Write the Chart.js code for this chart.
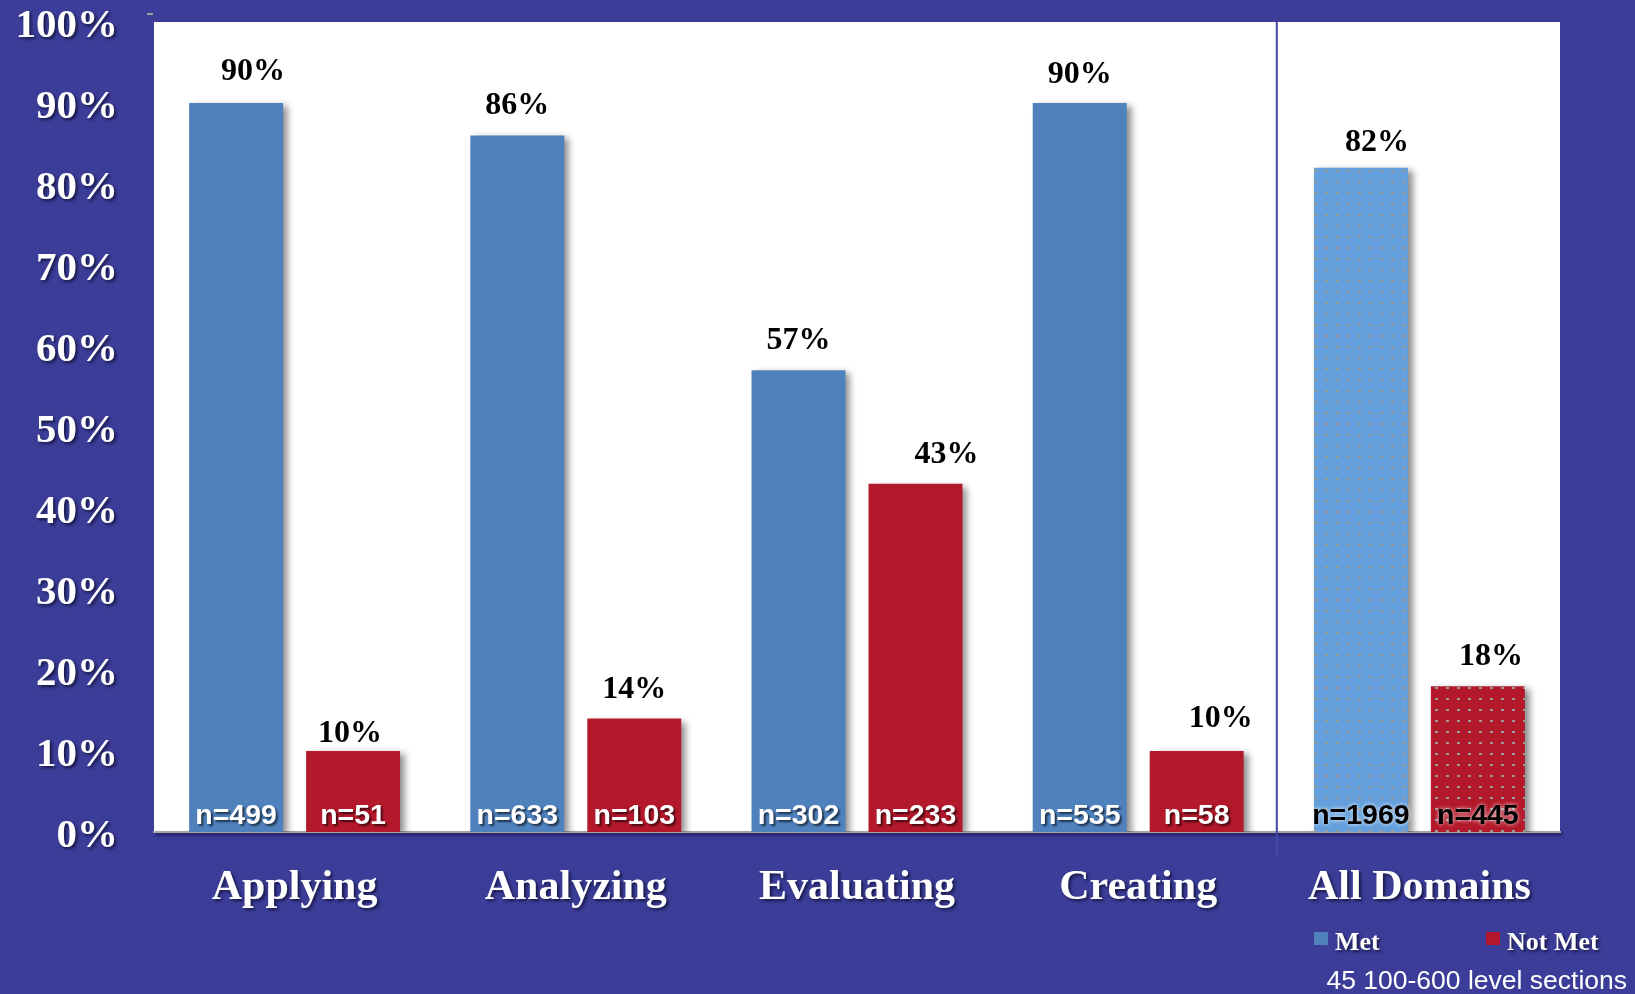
<!DOCTYPE html>
<html>
<head>
<meta charset="utf-8">
<title>Met / Not Met by domain</title>
<script src="https://cdn.jsdelivr.net/npm/chart.js@4.4.1/dist/chart.umd.min.js"></script>
<style>
  html, body { margin: 0; padding: 0; background: #3b3d98; }
  #chart { display: block; }
</style>
</head>
<body>
<canvas id="chart" width="1635" height="994"></canvas>
<script>
// Domains and results
const domains = ['Applying', 'Analyzing', 'Evaluating', 'Creating', 'All Domains'];
const metPct = [90, 86, 57, 90, 82];
const notMetPct = [10, 14, 43, 10, 18];
const metCount = [499, 633, 302, 535, 1969];
const notMetCount = [51, 103, 233, 58, 445];
const yTicks = [0, 10, 20, 30, 40, 50, 60, 70, 80, 90, 100];
const footNote = '45 100-600 level sections';

// colours
const BLUE = '#4f81bd';
const RED = '#b3182b';
const BLUE_LIGHT = '#65a0dc';

const SERIF = '"Liberation Serif", "Times New Roman", serif';
const SANS = '"Liberation Sans", Arial, sans-serif';

// hand placed nudges for the % labels (px)
const metDx = [17, 0, 0, 0, 16];
const metDy = [-2, 0, 0, 1, 4];
const notMetDx = [-3, 0, 31, 24, 13];
const notMetDy = [12, 0, 0, -3, 0];

const canvas = document.getElementById('chart');
const ctx = canvas.getContext('2d');

// dotted fill used for the "All Domains" bars
function dotPattern(color) {
	const c = document.createElement('canvas');
	c.width = 11;
	c.height = 11;
	const g = c.getContext('2d');
	g.fillStyle = color;
	g.fillRect(0, 0, 11, 11);
	g.fillStyle = '#9c9c9c';
	g.fillRect(5, 5, 3, 2);
	return ctx.createPattern(c, 'repeat');
}

function setShadow(c, color, blur, dx, dy) {
	c.shadowColor = color;
	c.shadowBlur = blur;
	c.shadowOffsetX = dx;
	c.shadowOffsetY = dy;
}

const metColors = domains.map((d, i) => i === domains.length - 1 ? dotPattern(BLUE_LIGHT) : BLUE);
const notMetColors = domains.map((d, i) => i === domains.length - 1 ? dotPattern(RED) : RED);

const panel = {
	id: 'panel',
	beforeDraw(chart) {
		const c = chart.ctx;
		const a = chart.chartArea;
		setShadow(c, 'rgba(0,0,0,0)', 0, 0, 0);
		c.save();
		c.fillStyle = '#ffffff';
		c.fillRect(a.left, a.top, a.right - a.left, a.bottom - a.top);
		// little grey tick at the top corner
		c.fillStyle = '#a0a0a0';
		c.fillRect(a.left - 7, 13, 6, 2);
		c.restore();
		// axis text gets a soft drop shadow
		setShadow(c, 'rgba(15,15,50,0.8)', 3, 2, 2);
	},
	beforeDatasetsDraw(chart) {
		setShadow(chart.ctx, 'rgba(0,0,0,0.45)', 7, 5, 3);
	},
	afterDatasetsDraw(chart) {
		const c = chart.ctx;
		const a = chart.chartArea;
		const x = chart.scales.x;
		setShadow(c, 'rgba(0,0,0,0)', 0, 0, 0);

		// divider before the totals
		const divX = (x.getPixelForValue(3) + x.getPixelForValue(4)) / 2 - 2;
		c.save();
		c.strokeStyle = '#4646aa';
		c.lineWidth = 2;
		c.beginPath();
		c.moveTo(divX, a.top);
		c.lineTo(divX, a.bottom + 25);
		c.stroke();
		c.restore();

		const sets = [
			{ pct: metPct, n: metCount, dx: metDx, dy: metDy },
			{ pct: notMetPct, n: notMetCount, dx: notMetDx, dy: notMetDy }
		];
		sets.forEach((s, di) => {
			const bars = chart.getDatasetMeta(di).data;
			bars.forEach((bar, i) => {
				// percentage above the bar
				c.save();
				c.font = 'bold 32px ' + SERIF;
				c.fillStyle = '#000';
				c.textAlign = 'center';
				c.textBaseline = 'alphabetic';
				c.fillText(s.pct[i] + '%', bar.x + s.dx[i], bar.y - 21 + s.dy[i]);
				c.restore();

				// count at the foot of the bar
				c.save();
				c.font = 'bold 28.5px ' + SANS;
				c.textAlign = 'center';
				c.textBaseline = 'alphabetic';
				if (i === domains.length - 1) {
					setShadow(c, 'rgba(255,255,255,0.9)', 4, 0, 0);
					c.fillStyle = '#000';
				} else {
					setShadow(c, 'rgba(0,0,0,0.6)', 2, 2, 2);
					c.fillStyle = '#fff';
				}
				c.fillText('n=' + s.n[i], bar.x, a.bottom - 8);
				c.restore();
			});
		});
	},
	afterDraw(chart) {
		const c = chart.ctx;
		// legend
		const items = [
			{ label: chart.data.datasets[0].label, color: BLUE, x: 1314 },
			{ label: chart.data.datasets[1].label, color: RED, x: 1486 }
		];
		items.forEach(it => {
			c.save();
			c.fillStyle = it.color;
			c.fillRect(it.x, 932, 14, 13);
			setShadow(c, 'rgba(15,15,50,0.8)', 3, 2, 2);
			c.font = 'bold 26px ' + SERIF;
			c.fillStyle = '#fff';
			c.textAlign = 'left';
			c.textBaseline = 'alphabetic';
			c.fillText(it.label, it.x + 21, 950);
			c.restore();
		});
		// footnote
		c.save();
		setShadow(c, 'rgba(0,0,0,0)', 0, 0, 0);
		c.font = '26.5px ' + SANS;
		c.fillStyle = '#fff';
		c.textAlign = 'right';
		c.textBaseline = 'alphabetic';
		c.fillText(footNote, 1627, 989);
		c.restore();
		setShadow(c, 'rgba(0,0,0,0)', 0, 0, 0);
	}
};

new Chart(canvas, {
	type: 'bar',
	data: {
		labels: domains,
		datasets: [
			{
				label: 'Met',
				data: metPct,
				backgroundColor: metColors,
				borderWidth: 0,
				barPercentage: 0.803,
				categoryPercentage: 0.832
			},
			{
				label: 'Not Met',
				data: notMetPct,
				backgroundColor: notMetColors,
				borderWidth: 0,
				barPercentage: 0.803,
				categoryPercentage: 0.832
			}
		]
	},
	options: {
		responsive: false,
		animation: false,
		layout: { padding: { top: 22, right: 75, bottom: 0, left: 0 } },
		plugins: {
			legend: { display: false },
			tooltip: { enabled: false }
		},
		scales: {
			x: {
				grid: { display: false, drawTicks: false },
				border: { display: true, color: '#a6a6a6', width: 2 },
				ticks: {
					color: '#ffffff',
					padding: 31,
					font: { family: SERIF, size: 42, weight: 'bold' }
				},
				afterFit(scale) { scale.height = 162; }
			},
			y: {
				min: 0,
				max: 100,
				afterBuildTicks(scale) {
					scale.ticks = yTicks.map(v => ({ value: v }));
				},
				grid: { display: false, drawTicks: false },
				border: { display: false },
				ticks: {
					color: '#ffffff',
					padding: 36,
					labelOffset: 4,
					font: { family: SERIF, size: 41, weight: 'bold', lineHeight: 1 },
					callback: v => v + '%'
				},
				afterFit(scale) {
					scale.width = 154;
					// keep the plot top flush with the layout padding
					scale.paddingTop = 0;
					scale.paddingBottom = 0;
				}
			}
		}
	},
	plugins: [panel]
});
</script>
</body>
</html>
